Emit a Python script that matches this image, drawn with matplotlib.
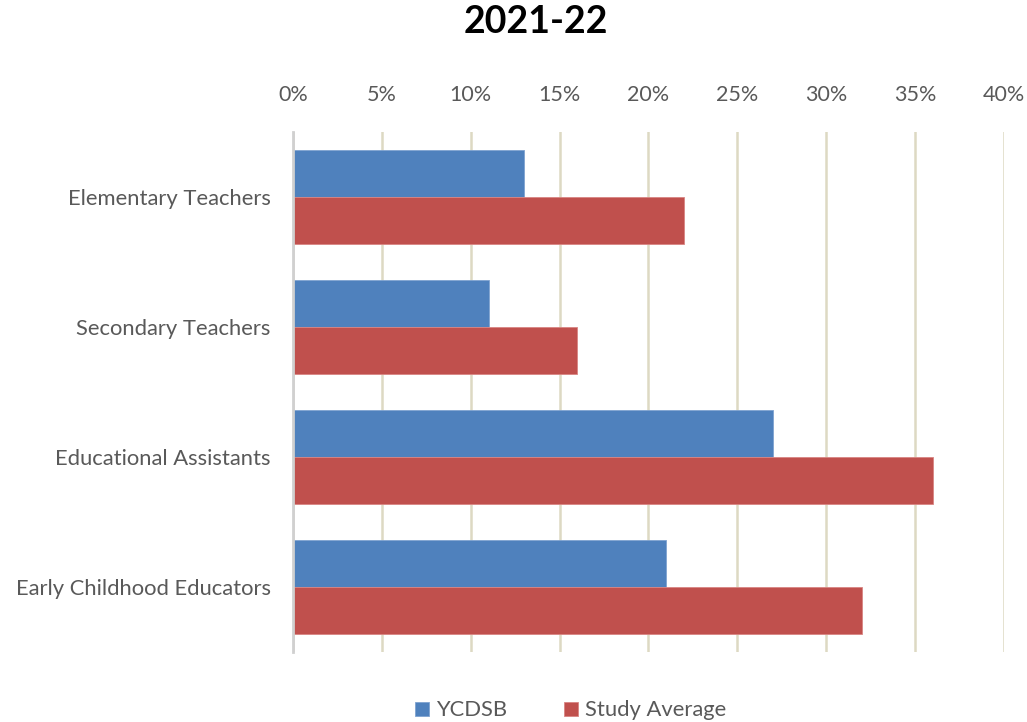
import matplotlib.pyplot as plt
import numpy as np
from matplotlib.ticker import FuncFormatter

categories = ["Elementary Teachers", "Secondary Teachers",
              "Educational Assistants", "Early Childhood Educators"]
ycdsb = [13, 11, 27, 21]
study_avg = [22, 16, 36, 32]
x_ticks = [0, 5, 10, 15, 20, 25, 30, 35, 40]

plt.rcParams['font.family'] = ['Lato', 'DejaVu Sans']

fig = plt.figure(figsize=(10.27, 7.22), dpi=100)
ax = fig.add_axes([0.2853, 0.097, 0.6923, 0.7202])

y = np.arange(len(categories))
h = 0.36
ax.barh(y - h / 2, ycdsb, height=h, color="#4F81BD", edgecolor="#7FA3D0",
        linewidth=0.6, label="YCDSB", zorder=3)
ax.barh(y + h / 2, study_avg, height=h, color="#C0504D", edgecolor="#D98583",
        linewidth=0.6, label="Study Average", zorder=3)

ax.set_xlim(0, 40)
ax.set_ylim(3.5, -0.5)
ax.set_xticks(x_ticks)
ax.xaxis.set_major_formatter(FuncFormatter(lambda v, p: f"{v:.0f}%"))
ax.xaxis.tick_top()
ax.tick_params(axis="x", length=0, pad=19.5, labelsize=15.5, colors="#595959")
ax.set_yticks(y)
ax.set_yticklabels(categories)
ax.tick_params(axis="y", length=0, pad=16, labelsize=15.8, colors="#595959")
ax.grid(axis="x", color="#DDD9C3", linewidth=1.8, zorder=0)
for s in ["top", "right", "bottom"]:
    ax.spines[s].set_visible(False)
ax.spines["left"].set_color("#D0D0D0")
ax.spines["left"].set_linewidth(2)
ax.spines["left"].set_zorder(4)

fig.text(0.522, 0.97, "2021-22", ha="center", va="center",
         fontsize=27, fontweight="bold", color="black")

fig.legend(loc="center", bbox_to_anchor=(0.556, 0.016), ncol=2, frameon=False,
           fontsize=15.8, handlelength=0.6, handleheight=0.6, handletextpad=0.35,
           columnspacing=2.6, labelcolor="#595959")

fig.savefig("out.png", dpi=100)
